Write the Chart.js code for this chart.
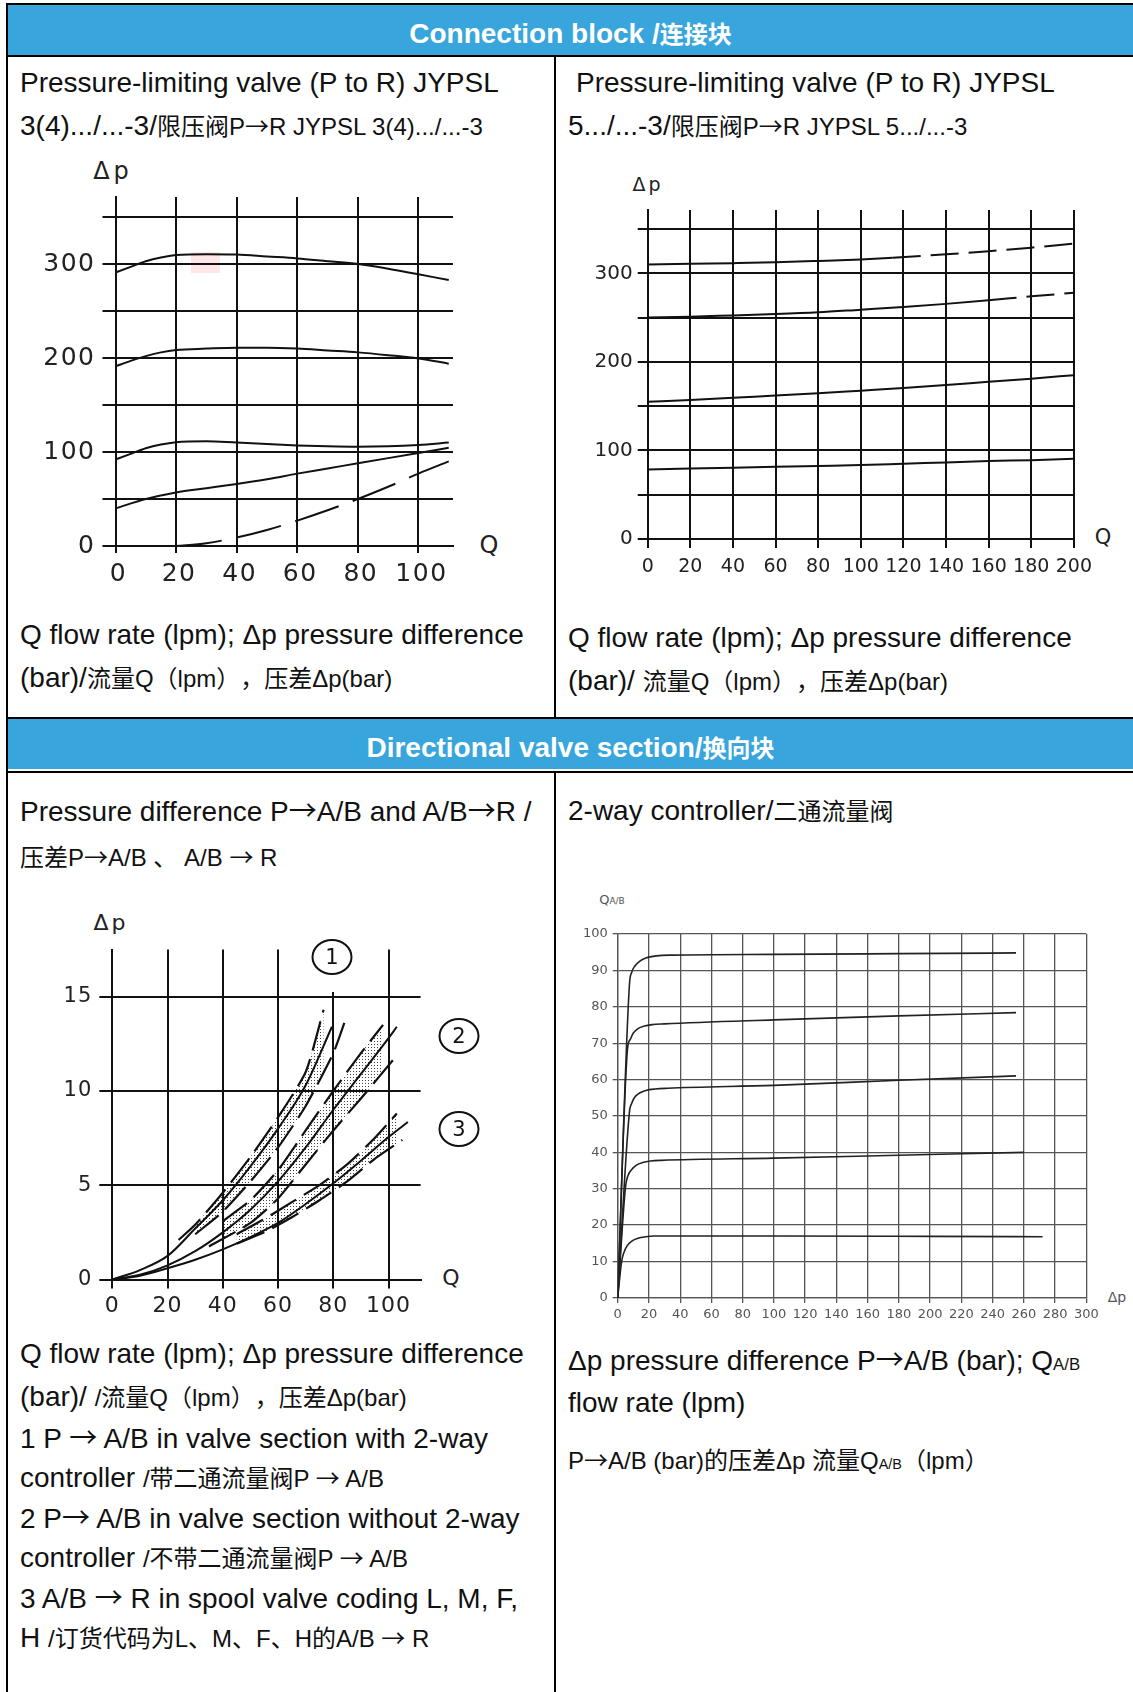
<!DOCTYPE html>
<html>
<head>
<meta charset="utf-8">
<title>Connection block / Directional valve section</title>
<script src="https://cdn.jsdelivr.net/npm/chart.js@4.4.1/dist/chart.umd.min.js"></script>
<style>
  html, body { margin: 0; padding: 0; background: #fff; }
  #page { position: relative; width: 1133px; height: 1692px; overflow: hidden;
          font-family: "Liberation Sans", Arial, "Noto Sans CJK SC", sans-serif; color: #111;
          text-spacing-trim: space-all; }
  .ln { position: absolute; background: #000; }
  .band { position: absolute; left: 8px; width: 1125px; height: 50px; background: #38a6dd;
          color: #fff; font-weight: bold; font-size: 28px; line-height: 57px; text-align: center; white-space: nowrap; }
  .t { position: absolute; white-space: nowrap; font-size: 28px; line-height: 34px; }
  .c { font-size: 24px; }
  .s { font-size: 0.6em; }
  .ar { font-family: "Noto Sans CJK SC", sans-serif; }
  .lab { position: absolute; transform: translate(-50%, -50%); font-family: "DejaVu Sans", sans-serif;
         color: #222; white-space: nowrap; line-height: 1; }
  .circ { position: absolute; transform: translate(-50%, -50%); width: 37px; height: 32px; border: 2px solid #111;
          border-radius: 50%; background: #fff; font-family: "DejaVu Sans", sans-serif; font-size: 21px;
          line-height: 32px; text-align: center; z-index: 3; }
  canvas { position: absolute; }
</style>
</head>
<body>
<div id="page">
  <!-- frame -->
  <div class="ln" style="left:6px;top:3px;width:1127px;height:2px"></div>
  <div class="band" style="top:5px">Connection block /<span class="c">连接块</span></div>
  <div class="ln" style="left:6px;top:55px;width:1127px;height:2px"></div>
  <div class="ln" style="left:6px;top:3px;width:2px;height:1689px"></div>
  <div class="ln" style="left:554px;top:57px;width:2px;height:660px"></div>
  <div class="ln" style="left:6px;top:717px;width:1127px;height:2px"></div>
  <div class="band" style="top:719px">Directional valve section/<span class="c">换向块</span></div>
  <div class="ln" style="left:6px;top:771px;width:1127px;height:2px"></div>
  <div class="ln" style="left:554px;top:773px;width:2px;height:919px"></div>

  <!-- top left texts -->
  <div class="t" style="left:20px;top:66px">Pressure-limiting valve (P to R) JYPSL</div>
  <div class="t" style="left:20px;top:108px">3(4).../...-3/<span class="c">限压阀P<span class="ar">→</span>R JYPSL 3(4).../...-3</span></div>
  <div class="t" style="left:20px;top:618px">Q flow rate (lpm); Δp pressure difference</div>
  <div class="t" style="left:20px;top:661px">(bar)/<span class="c">流量Q（lpm），压差Δp(bar)</span></div>
  <div class="lab" style="left:113px;top:171px;font-size:24px;letter-spacing:4px">Δp</div>
  <div class="lab" style="left:489px;top:545px;font-size:24px">Q</div>
  <div style="position:absolute;left:191px;top:252px;width:29px;height:21px;background:rgba(255,160,160,0.25)"></div>

  <!-- top right texts -->
  <div class="t" style="left:576px;top:66px">Pressure-limiting valve (P to R) JYPSL</div>
  <div class="t" style="left:568px;top:108px">5.../...-3/<span class="c">限压阀P<span class="ar">→</span>R JYPSL 5.../...-3</span></div>
  <div class="t" style="left:568px;top:621px">Q flow rate (lpm); Δp pressure difference</div>
  <div class="t" style="left:568px;top:664px">(bar)/ <span class="c">流量Q（lpm），压差Δp(bar)</span></div>
  <div class="lab" style="left:648px;top:184px;font-size:19px;letter-spacing:3px">Δp</div>
  <div class="lab" style="left:1103px;top:537px;font-size:21px">Q</div>

  <!-- bottom left texts -->
  <div class="t" style="left:20px;top:792px">Pressure difference P<span class="ar">→</span>A/B and A/B<span class="ar">→</span>R /</div>
  <div class="t" style="left:20px;top:839px"><span class="c">压差P<span class="ar">→</span>A/B 、 A/B <span class="ar">→</span> R</span></div>
  <div class="lab" style="left:111px;top:923px;font-size:22px;letter-spacing:3px">Δp</div>
  <div class="lab" style="left:451px;top:1278px;font-size:22px">Q</div>
  <div style="position:absolute;left:329px;top:940px;width:9px;height:52px;background:#fff;z-index:2"></div>
  <div class="circ" style="left:332px;top:957px">1</div>
  <div class="circ" style="left:459px;top:1036px">2</div>
  <div class="circ" style="left:459px;top:1129px">3</div>
  <div class="t" style="left:20px;top:1337px">Q flow rate (lpm); Δp pressure difference</div>
  <div class="t" style="left:20px;top:1380px">(bar)/ <span class="c">/流量Q（lpm），压差Δp(bar)</span></div>
  <div class="t" style="left:20px;top:1419px">1 P <span class="ar">→</span> A/B in valve section with 2-way</div>
  <div class="t" style="left:20px;top:1460px">controller <span class="c">/带二通流量阀P <span class="ar">→</span> A/B</span></div>
  <div class="t" style="left:20px;top:1499px">2 P<span class="ar">→</span> A/B in valve section without 2-way</div>
  <div class="t" style="left:20px;top:1540px">controller <span class="c">/不带二通流量阀P <span class="ar">→</span> A/B</span></div>
  <div class="t" style="left:20px;top:1579px">3 A/B <span class="ar">→</span> R in spool valve coding L, M, F,</div>
  <div class="t" style="left:20px;top:1620px">H <span class="c">/订货代码为L、M、F、H的A/B <span class="ar">→</span> R</span></div>

  <!-- bottom right texts -->
  <div class="t" style="left:568px;top:794px">2-way controller/<span class="c">二通流量阀</span></div>
  <div class="lab" style="left:612px;top:899px;font-size:13px;color:#555">Q<span style="font-size:9px">A/B</span></div>
  <div class="lab" style="left:1117px;top:1297px;font-size:14px;color:#555">Δp</div>
  <div class="t" style="left:568px;top:1341px">Δp pressure difference P<span class="ar">→</span>A/B (bar); Q<span class="s">A/B</span></div>
  <div class="t" style="left:568px;top:1386px">flow rate (lpm)</div>
  <div class="t" style="left:568px;top:1442px"><span class="c">P<span class="ar">→</span>A/B (bar)的压差Δp 流量Q<span class="s">A/B</span>（lpm）</span></div>

  <canvas id="tl"></canvas>
  <canvas id="tr"></canvas>
  <canvas id="bl"></canvas>
  <canvas id="br"></canvas>
</div>

<script>
// ---- top left: JYPSL 3(4), Δp (bar) against Q (lpm)
const tlQ = [0, 5, 10, 15, 20, 30, 40, 50, 60, 70, 80, 90, 100, 110];
const tl300 = [291, 297, 303, 307, 309.5, 310.5, 310, 308, 306, 303, 300, 295, 289, 283];
const tl200 = [191, 197, 202, 206, 208.5, 210, 211, 211, 210, 208, 206, 203, 199.5, 194];
const tl100 = [92, 98, 104, 108, 110.5, 111.5, 110, 108.5, 107, 106, 105.5, 106, 107.5, 110];
const tlLowQ = [0, 10, 20, 30, 40, 50, 60, 70, 80, 90, 100, 110];
const tlLow = [40, 50, 57, 61.5, 66, 71, 77, 82.5, 88, 93.5, 99, 104.5];
const tlDashQ = [20, 30, 40, 50, 60, 70, 80, 90, 100, 110];
const tlDash = [0, 3, 9, 17, 27, 38, 50, 63, 77, 90];

// ---- top right: JYPSL 5
const trQ = [0, 20, 40, 60, 80, 100, 120, 140, 160, 180, 200];
const trAQ = [0, 20, 40, 60, 80, 100, 115, 140, 160, 180, 200];
const trA = [310, 310.7, 311.5, 312.5, 314, 315.7, 317.5, 321.5, 325, 329, 333.5];
const trB = [250, 251, 252.5, 254, 256, 259, 262, 265.5, 269.5, 274, 278];
const trC = [155, 157, 159.5, 162, 164.5, 167.5, 170.5, 174, 177.5, 181, 185];
const trD = [78.5, 79.5, 80.5, 81.5, 82.5, 83.5, 85, 86.5, 88, 89, 90.5];
const trADashFrom = 115;
const trBDashFrom = 160;

// ---- bottom left: Δp P→A/B and A/B→R, curves 1..3 with tolerance bands
const c1Q = [0, 10, 20, 30, 40, 50, 60, 70, 79.5];
const c1 = [0, 0.5, 1.25, 2.7, 4.2, 6.0, 8.0, 10.3, 13.4];
const c1UpQ = [24, 30, 40, 50, 60, 70, 76.5];
const c1Up = [2.1, 2.9, 4.6, 6.5, 8.6, 11.0, 14.3];
const c1LoQ = [30, 40, 50, 60, 70, 80, 84];
const c1Lo = [2.4, 3.6, 5.2, 7.0, 9.2, 12.0, 13.6];
const c2Q = [0, 10, 20, 30, 40, 50, 60, 70, 80, 90, 100, 103];
const c2 = [0, 0.25, 0.75, 1.5, 2.5, 3.7, 5.2, 7.0, 9.0, 10.9, 12.8, 13.4];
const c2UpQ = [40, 50, 60, 70, 80, 90, 98];
const c2Up = [3.1, 4.2, 5.8, 7.9, 10.0, 12.0, 13.5];
const c2LoQ = [35, 50, 60, 70, 80, 90, 102];
const c2Lo = [1.75, 3.0, 4.3, 6.1, 7.9, 9.6, 11.7];
const c3Q = [0, 10, 20, 30, 40, 50, 60, 70, 80, 90, 100, 107];
const c3 = [0, 0.2, 0.6, 1.05, 1.6, 2.25, 3.0, 4.0, 5.1, 6.3, 7.55, 8.35];
const c3UpQ = [45, 55, 65, 75, 85, 95, 103];
const c3Up = [2.4, 3.2, 4.1, 5.0, 6.1, 7.5, 8.8];
const c3LoQ = [45, 55, 65, 75, 85, 95, 105];
const c3Lo = [1.9, 2.5, 3.3, 4.2, 5.2, 6.4, 7.4];

// ---- bottom right: 2-way controller, Q A/B (lpm) against Δp (bar)
const f94P = [0, 7.5, 9, 11, 14, 18, 25, 35, 100, 180, 255];
const f94 = [0, 86, 89.5, 91.2, 92.5, 93.4, 94.0, 94.2, 94.4, 94.6, 94.8];
const f75P = [0, 6.3, 8, 10, 13, 17, 22, 30, 100, 180, 255];
const f75 = [0, 68.5, 71, 72.8, 74, 74.7, 75.1, 75.3, 76.4, 77.5, 78.4];
const f57P = [0, 7.5, 9, 11, 14, 18, 24, 32, 100, 180, 255];
const f57 = [0, 51, 53.5, 55.2, 56.3, 57, 57.4, 57.6, 58.4, 59.8, 61];
const f38P = [0, 5, 6.5, 9, 12, 16, 21, 28, 100, 180, 260];
const f38 = [0, 30.5, 33.5, 35.3, 36.5, 37.2, 37.6, 37.8, 38.4, 39.2, 40];
const f17P = [0, 2.5, 4, 6, 9, 13, 18, 23, 100, 200, 272];
const f17 = [0, 10, 12.5, 14.3, 15.6, 16.4, 16.8, 17, 17, 16.9, 16.8];

function pts(xs, ys) {
  return xs.map((x, i) => ({ x: x, y: ys[i] }));
}

function curve(data, extra) {
  return Object.assign({
    data: data,
    borderColor: '#111',
    borderWidth: 2,
    pointRadius: 0,
    fill: false,
    cubicInterpolationMode: 'monotone'
  }, extra || {});
}

// box = canvas rect on the page, area = wanted plot rect on the page
function makeChart(id, box, area, ax, datasets) {
  const cv = document.getElementById(id);
  cv.width = box.w;
  cv.height = box.h;
  cv.style.left = box.x + 'px';
  cv.style.top = box.y + 'px';
  // the scanned charts use a wide digit face, a bit of tracking gets closer
  const spacing = {
    id: 'tickSpacing',
    beforeDraw(chart) { chart.ctx.letterSpacing = (ax.ls || 0) + 'px'; }
  };
  return new Chart(cv, {
    type: 'line',
    data: { datasets: datasets },
    plugins: [spacing],
    options: {
      responsive: false,
      animation: false,
      events: [],
      layout: { padding: { left: 0, bottom: 0, top: area.top - box.y, right: box.x + box.w - area.right } },
      plugins: { legend: { display: false }, tooltip: { enabled: false } },
      scales: {
        x: {
          type: 'linear',
          min: 0,
          max: ax.xMax,
          afterFit: s => { s.height = box.y + box.h - area.bottom; },
          ticks: { stepSize: ax.xStep, includeBounds: false, autoSkip: false, maxRotation: 0,
                   labelOffset: ax.xOff || 0,
                   font: { family: 'DejaVu Sans', size: ax.xFont || ax.font }, color: ax.tickColor, padding: ax.xPad },
          grid: { color: ax.grid, lineWidth: ax.gw, tickLength: ax.xTick },
          border: { color: ax.grid, width: ax.gw }
        },
        y: {
          type: 'linear',
          min: 0,
          max: ax.yMax,
          afterFit: s => { s.width = area.left - box.x; },
          ticks: { stepSize: ax.yStep, includeBounds: false, autoSkip: false,
                   font: { family: 'DejaVu Sans', size: ax.font }, color: ax.tickColor, padding: ax.yPad,
                   callback: v => (v % ax.yLabelEvery === 0 ? v : '') },
          grid: { color: ax.grid, lineWidth: ax.gw, tickLength: ax.yTick },
          border: { color: ax.grid, width: ax.gw }
        }
      }
    }
  });
}

// top left
makeChart('tl', { x: 20, y: 160, w: 470, h: 440 }, { left: 115.5, top: 197, right: 453, bottom: 546 },
  { xMax: 111.4, xStep: 20, yMax: 371.3, yStep: 50, yLabelEvery: 100, font: 25, tickColor: '#222', ls: 1.5,
    xOff: 3, xPad: 6, yPad: 7, grid: '#111', gw: 2, xTick: 7, yTick: 13 },
  [
    curve(pts(tlQ, tl300)),
    curve(pts(tlQ, tl200)),
    curve(pts(tlQ, tl100)),
    curve(pts(tlLowQ, tlLow)),
    curve(pts(tlDashQ, tlDash), { borderDash: [46, 15] })
  ]);

// top right
makeChart('tr', { x: 570, y: 180, w: 530, h: 420 }, { left: 647.7, top: 210, right: 1076.8, bottom: 539 },
  { xMax: 200, xStep: 20, yMax: 371.5, yStep: 50, yLabelEvery: 100, font: 20, xFont: 19, tickColor: '#222',
    xPad: 8, yPad: 5, grid: '#111', gw: 2, xTick: 9, yTick: 10 },
  [
    curve(pts(trAQ, trA), { segment: { borderDash: c => (trAQ[c.p0DataIndex] >= trADashFrom ? [28, 10] : undefined) } }),
    curve(pts(trQ, trB), { segment: { borderDash: c => (trQ[c.p0DataIndex] >= trBDashFrom ? [28, 10] : undefined) } }),
    curve(pts(trQ, trC)),
    curve(pts(trQ, trD))
  ]);

// bottom left, stippled tolerance bands between dashed limits
const blCanvas = document.getElementById('bl');
const dot = document.createElement('canvas');
dot.width = 3; dot.height = 3;
const dctx = dot.getContext('2d');
dctx.fillStyle = 'rgba(0,0,0,0.75)';
dctx.fillRect(0, 0, 1, 1);
const stipple = blCanvas.getContext('2d').createPattern(dot, 'repeat');
const band = { borderDash: [30, 9], borderWidth: 2.2, cubicInterpolationMode: 'default', tension: 0.2 };

makeChart('bl', { x: 20, y: 930, w: 430, h: 400 }, { left: 112.3, top: 949, right: 420.6, bottom: 1279.5 },
  { xMax: 111.6, xStep: 20, yMax: 17.49, yStep: 5, yLabelEvery: 5, font: 21, xFont: 22, tickColor: '#222', ls: 1,
    xPad: 5, yPad: 7, grid: '#111', gw: 2, xTick: 9, yTick: 13 },
  [
    curve(pts(c1LoQ, c1Lo), band),
    curve(pts(c1UpQ, c1Up), Object.assign({}, band, { fill: '-1', backgroundColor: stipple })),
    curve(pts(c2LoQ, c2Lo), band),
    curve(pts(c2UpQ, c2Up), Object.assign({}, band, { fill: '-1', backgroundColor: stipple })),
    curve(pts(c3LoQ, c3Lo), band),
    curve(pts(c3UpQ, c3Up), Object.assign({}, band, { fill: '-1', backgroundColor: stipple })),
    curve(pts(c1Q, c1)),
    curve(pts(c2Q, c2)),
    curve(pts(c3Q, c3))
  ]);

// bottom right
makeChart('br', { x: 570, y: 920, w: 540, h: 420 }, { left: 617.7, top: 934, right: 1086.3, bottom: 1297.9 },
  { xMax: 300, xStep: 20, yMax: 100, yStep: 10, yLabelEvery: 10, font: 13, tickColor: '#555',
    xPad: 4, yPad: 5, grid: '#555', gw: 1.3, xTick: 5, yTick: 5 },
  [
    curve(pts(f94P, f94), { borderWidth: 1.6, borderColor: '#222' }),
    curve(pts(f75P, f75), { borderWidth: 1.6, borderColor: '#222' }),
    curve(pts(f57P, f57), { borderWidth: 1.6, borderColor: '#222' }),
    curve(pts(f38P, f38), { borderWidth: 1.6, borderColor: '#222' }),
    curve(pts(f17P, f17), { borderWidth: 1.6, borderColor: '#222' })
  ]);
</script>
</body>
</html>
